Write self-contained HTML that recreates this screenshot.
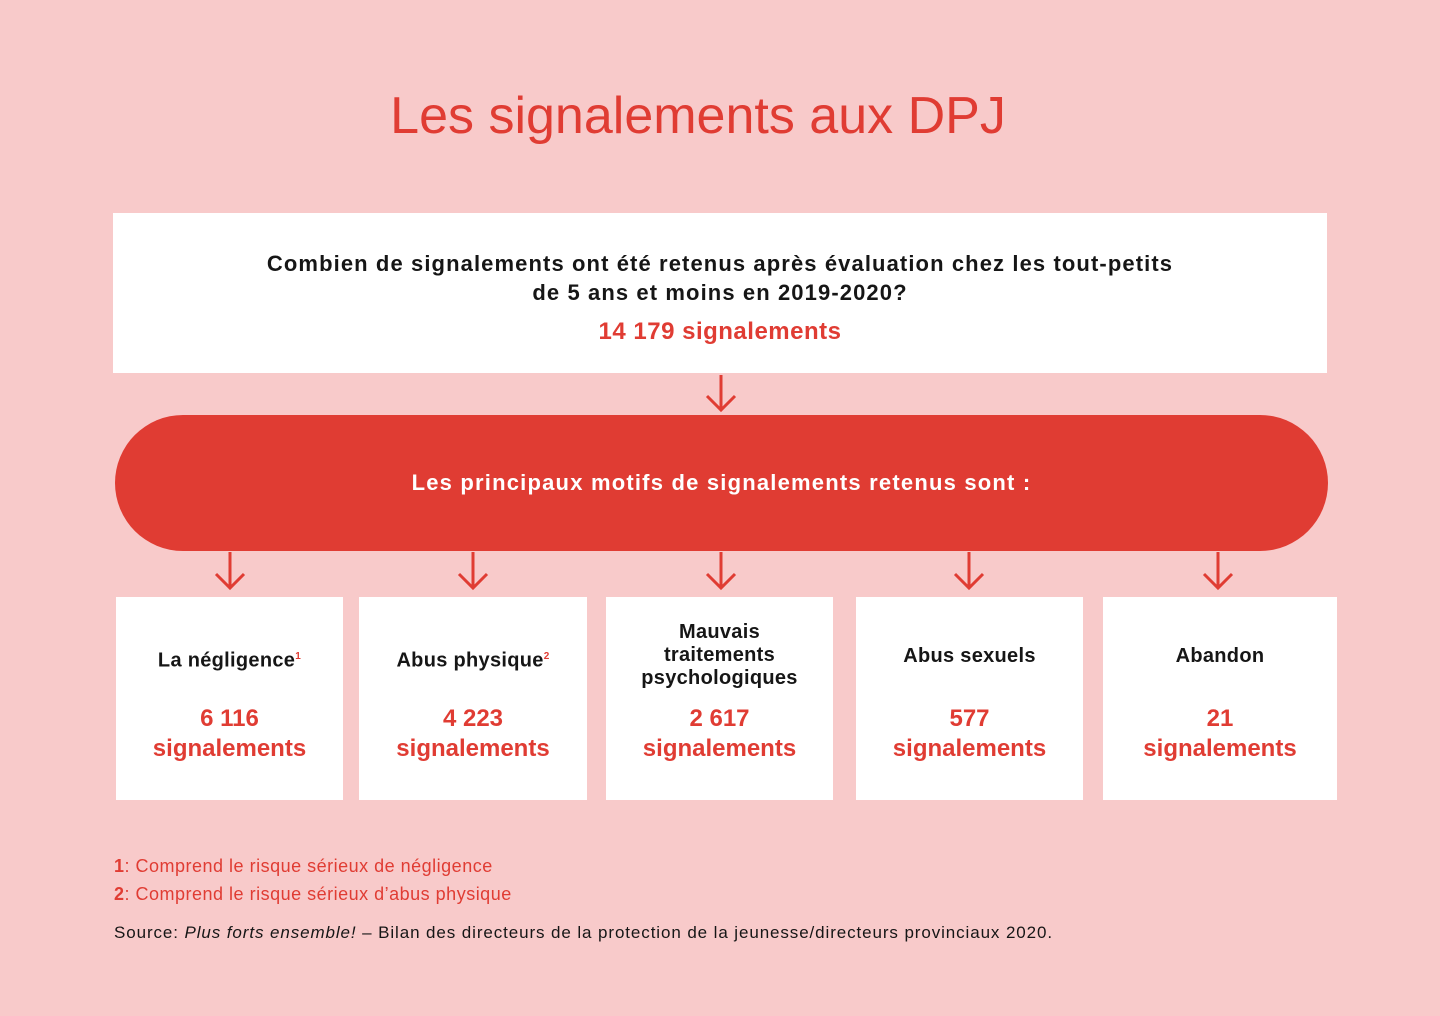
<!DOCTYPE html>
<html><head><meta charset="utf-8"><style>
body{margin:0;width:1440px;height:1016px;background:#f8caca;font-family:"Liberation Sans",sans-serif;position:relative;overflow:hidden}
.a{position:absolute}
.c{text-align:center}
.t{left:0;width:1396px;top:86px;font-size:52px;color:#e03c33;text-align:center}
.box{background:#fff}
.lab{font-weight:bold;font-size:20px;color:#161616;line-height:23px;letter-spacing:0.3px}
.num{font-weight:bold;font-size:24px;color:#e03c33;line-height:30px}
svg{position:absolute;left:0;top:0}
</style></head><body>
<div class="a t">Les signalements aux DPJ</div>
<div class="a box" style="left:113px;top:213px;width:1214px;height:160px"></div>
<div class="a c" style="left:113px;width:1214px;top:249px;font-weight:bold;font-size:22px;letter-spacing:1.1px;line-height:29px;color:#161616">Combien de signalements ont été retenus après évaluation chez les tout-petits<br>de 5 ans et moins en 2019-2020?</div>
<div class="a c" style="left:113px;width:1214px;top:318px;font-weight:bold;font-size:24px;letter-spacing:0.5px;color:#e03c33">14 179 signalements</div>
<div class="a" style="left:115px;top:415px;width:1213px;height:136px;border-radius:68px;background:#e03c33"></div>
<div class="a c" style="left:115px;width:1213px;top:470px;font-weight:bold;font-size:22px;letter-spacing:1.2px;color:#fff">Les principaux motifs de signalements retenus sont :</div>
<svg width="1440" height="1016" fill="none" stroke="#e03c33" stroke-width="3">
<path d="M721 375V410M707 396L721 410L735 396"/>
<path d="M230 552V588M216 574L230 588L244 574"/>
<path d="M473 552V588M459 574L473 588L487 574"/>
<path d="M721 552V588M707 574L721 588L735 574"/>
<path d="M969 552V588M955 574L969 588L983 574"/>
<path d="M1218 552V588M1204 574L1218 588L1232 574"/>
</svg>
<div class="a box" style="left:116px;top:597px;width:227px;height:203px"></div>
<div class="a box" style="left:359px;top:597px;width:228px;height:203px"></div>
<div class="a box" style="left:606px;top:597px;width:227px;height:203px"></div>
<div class="a box" style="left:856px;top:597px;width:227px;height:203px"></div>
<div class="a box" style="left:1103px;top:597px;width:234px;height:203px"></div>
<div class="a c lab" style="left:116px;width:227px;top:645px">La négligence<sup style="color:#e03c33;font-size:10px">1</sup></div>
<div class="a c lab" style="left:359px;width:228px;top:645px">Abus physique<sup style="color:#e03c33;font-size:10px">2</sup></div>
<div class="a c lab" style="left:606px;width:227px;top:621px">Mauvais<br>traitements<br>psychologiques</div>
<div class="a c lab" style="left:856px;width:227px;top:645px">Abus sexuels</div>
<div class="a c lab" style="left:1103px;width:234px;top:645px">Abandon</div>
<div class="a c num" style="left:116px;width:227px;top:704px">6 116<br>signalements</div>
<div class="a c num" style="left:359px;width:228px;top:704px">4 223<br>signalements</div>
<div class="a c num" style="left:606px;width:227px;top:704px">2 617<br>signalements</div>
<div class="a c num" style="left:856px;width:227px;top:704px">577<br>signalements</div>
<div class="a c num" style="left:1103px;width:234px;top:704px">21<br>signalements</div>
<div class="a" style="left:114px;top:856px;font-size:18px;letter-spacing:0.5px;color:#e03c33"><b>1</b>: Comprend le risque sérieux de négligence</div>
<div class="a" style="left:114px;top:884px;font-size:18px;letter-spacing:0.5px;color:#e03c33"><b>2</b>: Comprend le risque sérieux d’abus physique</div>
<div class="a" style="left:114px;top:923px;font-size:17px;letter-spacing:0.9px;color:#161616">Source: <i>Plus forts ensemble!</i> – Bilan des directeurs de la protection de la jeunesse/directeurs provinciaux 2020.</div>
</body></html>
